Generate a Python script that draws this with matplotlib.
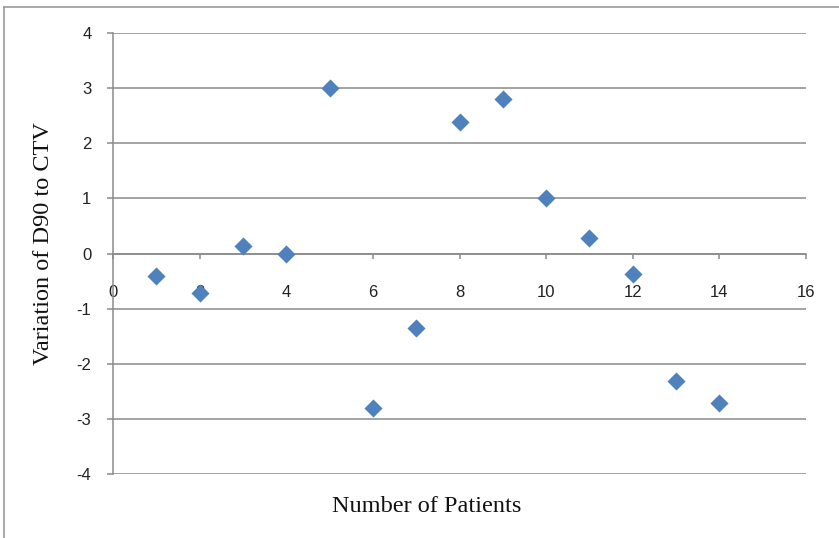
import matplotlib
matplotlib.use("Agg")
import matplotlib.pyplot as plt
from matplotlib.lines import Line2D

patients = [1, 2, 3, 4, 5, 6, 7, 8, 9, 10, 11, 12, 13, 14]
variation = [-0.41, -0.71, 0.13, 0.0, 3.0, -2.81, -1.36, 2.39, 2.80, 1.0, 0.29, -0.38, -2.31, -2.72]
x_ticks = [0, 2, 4, 6, 8, 10, 12, 14, 16]
y_ticks = [-4, -3, -2, -1, 0, 1, 2, 3, 4]

plt.rcParams["axes.unicode_minus"] = False

W, H = 839, 538
fig = plt.figure(figsize=(W / 100, H / 100), dpi=100)
ax = fig.add_axes([113 / W, 1 - 474 / H, (806 - 113) / W, (474 - 33) / H])

grid_c = "#8a8a8a"
ax.scatter(patients, variation, marker="D", s=85, color="#4F81BD", zorder=3, linewidths=0)

ax.set_xlim(0, 16)
ax.set_ylim(-4, 4)
ax.set_xticks(x_ticks)
ax.set_yticks(y_ticks)
ax.set_xticklabels([str(v) for v in x_ticks])
ax.set_yticklabels([str(v) for v in y_ticks])

for v in y_ticks:
    ax.axhline(v, color=grid_c, lw=1.1, zorder=1)

for s in ["top", "right"]:
    ax.spines[s].set_visible(False)
ax.spines["bottom"].set_position(("data", 0))
ax.spines["bottom"].set_color(grid_c)
ax.spines["left"].set_color(grid_c)
ax.spines["bottom"].set_linewidth(1.1)
ax.spines["left"].set_linewidth(1.1)

ax.tick_params(axis="y", direction="out", length=4.5, width=1.1, color=grid_c,
               labelsize=12, labelcolor="#222222", pad=11)
ax.tick_params(axis="x", direction="out", length=3.5, width=1.1, color=grid_c,
               labelsize=12, labelcolor="#222222", pad=19)
for lab in ax.get_xticklabels() + ax.get_yticklabels():
    lab.set_fontfamily("Liberation Sans")

fig.text(427 / W, 1 - 507 / H, "Number of Patients", family="Liberation Serif",
         fontsize=17.5, ha="center", va="center", color="#111111")
fig.text(44 / W, 1 - 244 / H, "Variation of D90 to CTV", family="Liberation Serif",
         fontsize=17.5, ha="center", va="center", rotation=90, color="#111111")

fig.add_artist(Line2D([4 / W, 4 / W], [0, 1 - 7 / H], color="#9a9a9a", lw=1.2,
                      transform=fig.transFigure))
fig.add_artist(Line2D([4 / W, 1], [1 - 7 / H, 1 - 7 / H], color="#9a9a9a", lw=1.2,
                      transform=fig.transFigure))

fig.savefig("out.png", dpi=100)
